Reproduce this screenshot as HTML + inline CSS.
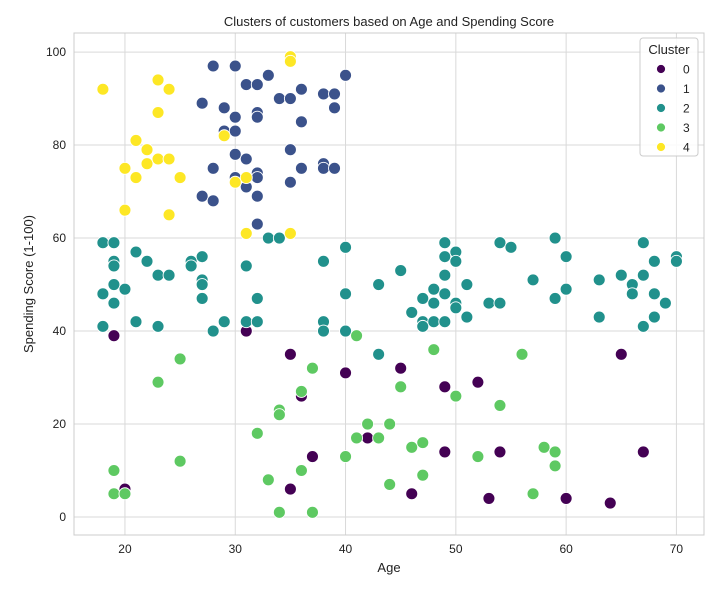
<!DOCTYPE html>
<html><head><meta charset="utf-8"><style>
body{margin:0;background:#fff;font-family:"Liberation Sans","DejaVu Sans",sans-serif}
svg text{font-family:"Liberation Sans","DejaVu Sans",sans-serif;fill:#222}
</style></head><body>
<svg id="chart" width="726" height="585"></svg>
<script>
const clusterNames=['0','1','2','3','4'];
const clusterColors=['#440154','#3b528b','#21918c','#5ec962','#fde725'];
const xTicks=[20,30,40,50,60,70];
const yTicks=[0,20,40,60,80,100];
const c4Age=[18,20,20,21,21,22,22,23,23,23,24,24,24,25,29,30,31,31,35,35,35];
const c4Score=[92,75,66,81,73,79,76,94,87,77,92,77,65,73,82,72,73,61,99,98,61];
const c1Age=[27,28,30,29,30,29,30,31,32,33,32,32,34,35,36,36,38,39,39,40,30,31,28,32,32,30,35,36,38,38,39,27,28,31,32,35,32];
const c1Score=[89,97,97,88,86,83,83,93,93,95,87,86,90,90,92,85,91,91,88,95,78,77,75,74,73,73,79,75,76,75,75,69,68,71,69,72,63];
const c2Age=[18,19,19,19,18,19,19,20,18,21,21,22,23,23,24,26,26,27,27,27,27,28,29,31,31,32,32,33,34,38,38,38,40,40,40,43,43,45,46,47,47,47,48,48,48,49,49,49,49,49,50,50,50,50,51,51,53,54,54,55,57,59,59,60,60,63,63,65,66,66,67,67,67,68,68,68,69,70,70];
const c2Score=[59,59,55,54,48,50,46,49,41,57,42,55,52,41,52,55,54,56,51,50,47,40,42,54,42,47,42,60,60,55,42,40,58,48,40,50,35,53,44,47,42,41,49,46,42,59,56,52,48,42,57,55,46,45,50,43,46,59,46,58,51,60,47,56,49,51,43,52,50,48,59,52,41,55,48,43,46,56,55];
const c3Age=[19,19,20,23,25,25,32,33,34,34,34,36,36,37,37,40,41,41,42,43,44,44,45,46,47,47,48,50,52,54,56,57,58,59,59];
const c3Score=[10,5,5,29,34,12,18,8,23,22,1,27,10,32,1,13,39,17,20,17,20,7,28,15,16,9,36,26,13,24,35,5,15,14,11];
const c0Age=[19,20,31,35,35,36,37,40,42,45,46,49,49,52,53,54,60,64,65,67];
const c0Score=[39,6,40,35,6,26,13,31,17,32,5,28,14,29,4,14,4,3,35,14];
const ages=[c0Age,c1Age,c2Age,c3Age,c4Age];
const scores=[c0Score,c1Score,c2Score,c3Score,c4Score];

const L=74,R=704,T=33,B=535,xMin=15.38,xMax=72.5,yMin=-3.87,yMax=104.1;
const X=v=>L+(v-xMin)/(xMax-xMin)*(R-L);
const Y=v=>B-(v-yMin)/(yMax-yMin)*(B-T);
const NS='http://www.w3.org/2000/svg';
const svg=document.getElementById('chart');
function mk(tag,attrs,parent){const e=document.createElementNS(NS,tag);for(const k in attrs)e.setAttribute(k,attrs[k]);(parent||svg).appendChild(e);return e;}

const grid=mk('g',{});


xTicks.forEach(t=>{
  mk('line',{x1:X(t),x2:X(t),y1:T,y2:B,stroke:'#d9d9d9','stroke-width':1},grid);
  const tx=mk('text',{x:X(t),y:B+18,'text-anchor':'middle','font-size':12});
  tx.textContent=t;
  
  
});
yTicks.forEach(t=>{
  mk('line',{x1:L,x2:R,y1:Y(t),y2:Y(t),stroke:'#d9d9d9','stroke-width':1},grid);
  const tx=mk('text',{x:L-8,y:Y(t)+4,'text-anchor':'end','font-size':12});
  tx.textContent=t;
  
  
});
const frame=mk('rect',{x:L,y:T,width:R-L,height:B-T,fill:'none',stroke:'#cccccc','stroke-width':1});



for(let c=0;c<5;c++){
  const g=mk('g',{});
  
  
  for(let i=0;i<ages[c].length;i++){
    const p=mk('circle',{cx:X(ages[c][i]),cy:Y(scores[c][i]),r:6,fill:clusterColors[c],stroke:'#fff','stroke-width':0.9},g);
    
    
  }
}

const title=mk('text',{x:(L+R)/2,y:26,'text-anchor':'middle','font-size':13});
title.textContent='Clusters of customers based on Age and Spending Score';


const xl=mk('text',{x:(L+R)/2,y:572,'text-anchor':'middle','font-size':13});
xl.textContent='Age';


const yl=mk('text',{x:0,y:0,'text-anchor':'middle','font-size':13,transform:'translate(33,'+((T+B)/2)+') rotate(-90)'});
yl.textContent='Spending Score (1-100)';



const lg=mk('g',{});


mk('rect',{x:640,y:38,width:58,height:118,rx:3,fill:'#fff','fill-opacity':0.85,stroke:'#cccccc'},lg);
const lt=mk('text',{x:669,y:54,'text-anchor':'middle','font-size':13},lg);
lt.textContent='Cluster';


clusterNames.forEach((n,i)=>{
  const e=mk('g',{},lg);
  
  
  const yy=69+i*19.5;
  mk('circle',{cx:661,cy:yy,r:4.5,fill:clusterColors[i],stroke:'#fff','stroke-width':0.8},e);
  const t=mk('text',{x:683,y:yy+4.5,'font-size':12},e);
  t.textContent=n;
});
</script>
</body></html>
